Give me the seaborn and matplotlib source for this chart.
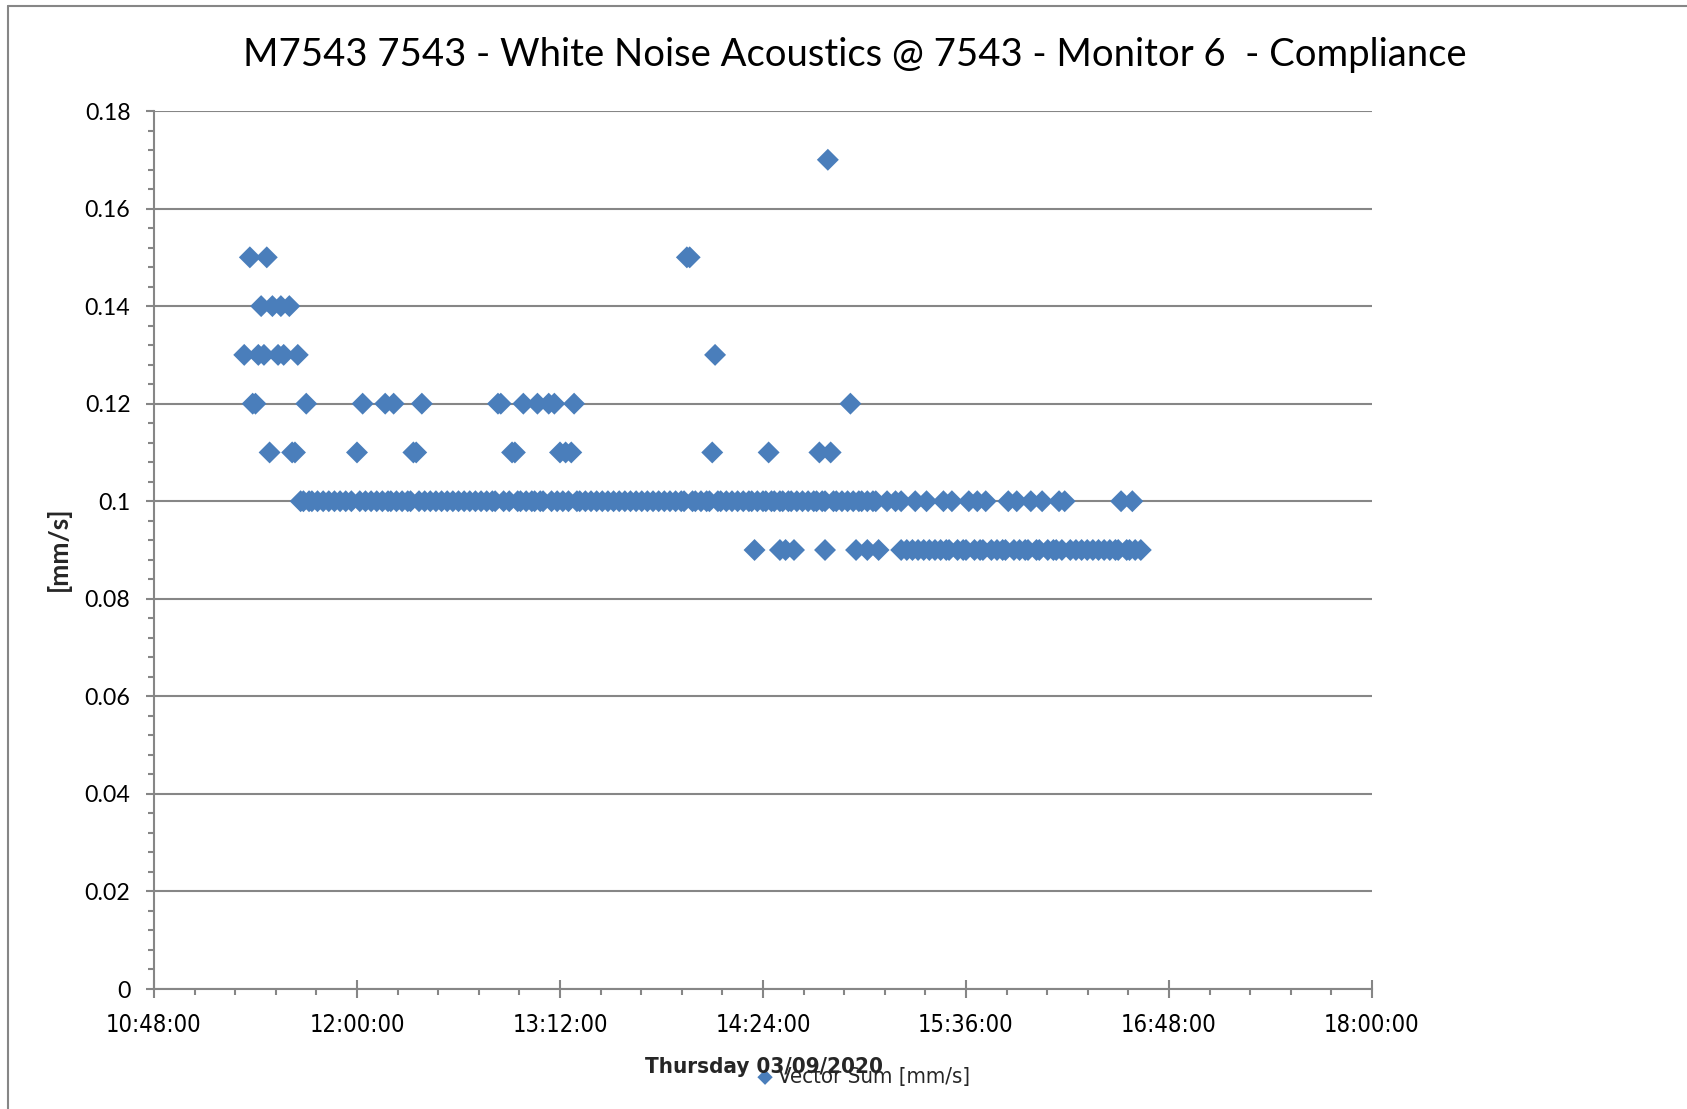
import matplotlib
matplotlib.use("Agg")
import matplotlib.pyplot as plt
import matplotlib.dates as mdates
import matplotlib.ticker as mticker
from matplotlib.lines import Line2D
import seaborn as sns
import pandas as pd

# ---------------- data ----------------
DATE = "2020-09-03"
TITLE = "M7543 7543 - White Noise Acoustics @ 7543 - Monitor 6  - Compliance"
X_LABEL = "Thursday 03/09/2020"
Y_LABEL = "[mm/s]"
SERIES = "Vector Sum [mm/s]"

x_tick_labels = ["10:48:00", "12:00:00", "13:12:00", "14:24:00", "15:36:00", "16:48:00", "18:00:00"]
y_ticks = [0, 0.02, 0.04, 0.06, 0.08, 0.1, 0.12, 0.14, 0.16, 0.18]

t_017 = ["14:47"]
t_015 = ["11:22", "11:28", "13:57", "13:58"]
t_014 = ["11:26", "11:30", "11:33", "11:36"]
t_013 = ["11:20", "11:25", "11:27", "11:32", "11:34", "11:39", "14:07"]
t_012 = ["11:23", "11:24", "11:42", "12:02", "12:10", "12:13", "12:23", "12:50",
         "12:51", "12:59", "13:04", "13:08", "13:10", "13:17", "14:55"]
t_011 = ["11:29", "11:37", "11:38", "12:00", "12:20", "12:21", "12:55", "12:56",
         "13:12", "13:14", "13:16", "14:06", "14:26", "14:44", "14:48"]
t_010 = ("11:40 11:41 11:43 11:44 11:46 11:48 11:50 11:52 11:54 11:56 11:58 12:01 "
         "12:03 12:05 12:07 12:09 12:11 12:12 12:14 12:16 12:18 12:19 12:22 12:24 "
         "12:26 12:28 12:30 12:32 12:34 12:36 12:38 12:40 12:42 12:44 12:46 12:48 "
         "12:49 12:52 12:54 12:57 12:58 13:00 13:02 13:03 13:05 13:06 13:09 13:11 "
         "13:13 13:15 13:18 13:19 13:21 13:23 13:25 13:27 13:29 13:31 13:33 13:35 "
         "13:37 13:39 13:41 13:43 13:45 13:47 13:49 13:51 13:53 13:55 13:56 13:59 "
         "14:00 14:02 14:04 14:05 14:08 14:09 14:11 14:13 14:15 14:17 14:19 14:20 "
         "14:22 14:24 14:25 14:27 14:28 14:30 14:31 14:33 14:34 14:36 14:38 14:40 "
         "14:42 14:43 14:45 14:46 14:49 14:50 14:52 14:54 14:56 14:58 14:59 15:01 "
         "15:03 15:04 15:08 15:11 15:13 15:18 15:22 15:28 15:31 15:37 15:40 15:43 "
         "15:51 15:54 15:59 16:03 16:09 16:11 16:31 16:35").split()
t_009 = ("14:21 14:30 14:32 14:35 14:46 14:57 15:01 15:05 15:13 15:15 15:17 15:19 "
         "15:21 15:23 15:25 15:27 15:29 15:30 15:33 15:35 15:36 15:39 15:41 15:42 "
         "15:45 15:47 15:49 15:50 15:53 15:55 15:57 15:58 16:01 16:02 16:05 16:07 "
         "16:08 16:10 16:13 16:15 16:17 16:19 16:21 16:23 16:25 16:27 16:29 16:30 "
         "16:33 16:34 16:36 16:38").split()

levels = {0.17: t_017, 0.15: t_015, 0.14: t_014, 0.13: t_013,
          0.12: t_012, 0.11: t_011, 0.10: t_010, 0.09: t_009}

rows = []
for val, times in levels.items():
    for t in times:
        rows.append({"time": pd.Timestamp(f"{DATE} {t}"), "value": val})
df = pd.DataFrame(rows).sort_values("time")

# ---------------- style ----------------
BLUE = "#4A7EBB"
GREY = "#868686"
W, H = 1687, 1109

sns.set_theme(style="white")
plt.rcParams['font.family'] = ['Lato', 'DejaVu Sans']
NARROW = dict(family=["DejaVu Sans"], stretch="condensed")

fig = plt.figure(figsize=(W / 100, H / 100), dpi=100)
ax = fig.add_axes([154 / W, 1 - 989 / H, 1218 / W, 878 / H])

sns.scatterplot(data=df, x="time", y="value", marker="D", s=125, color=BLUE,
                edgecolor="none", linewidth=0, ax=ax, label=SERIES, zorder=3)

x_ticks = [mdates.date2num(pd.Timestamp(f"{DATE} {l}")) for l in x_tick_labels]
ax.set_xlim(x_ticks[0], x_ticks[-1])
ax.xaxis.set_major_locator(mticker.FixedLocator(x_ticks))
ax.xaxis.set_major_formatter(mticker.FixedFormatter(x_tick_labels))
ax.xaxis.set_minor_locator(mticker.MultipleLocator(0.01))

ax.set_ylim(0, 0.18)
ax.yaxis.set_major_locator(mticker.FixedLocator(y_ticks))
ax.yaxis.set_major_formatter(mticker.FuncFormatter(lambda v, p: f"{round(v, 3):g}"))
ax.yaxis.set_minor_locator(mticker.MultipleLocator(0.004))

ax.yaxis.grid(True, which="major", color=GREY, linewidth=1.5)
ax.xaxis.grid(False)
ax.set_axisbelow(True)
for s in ["top", "right"]:
    ax.spines[s].set_visible(False)
for s in ["left", "bottom"]:
    ax.spines[s].set_color(GREY)
    ax.spines[s].set_linewidth(1.5)

ax.tick_params(axis="x", which="major", direction="inout", length=13, width=1.5,
               color=GREY, pad=11, labelsize=17, labelcolor="black")
ax.tick_params(axis="x", which="minor", direction="out", length=4.5, width=1.5, color=GREY)
ax.tick_params(axis="y", which="major", direction="out", length=6, width=1.5,
               color=GREY, pad=11, labelsize=16.7, labelcolor="black")
ax.tick_params(axis="y", which="minor", direction="out", length=4, width=1.5, color=GREY)
ax.tick_params(bottom=True, left=True, which="both")
for lab in ax.get_xticklabels():
    lab.set_family(NARROW["family"])
    lab.set_stretch(NARROW["stretch"])
ax.set_xlabel("")
ax.set_ylabel("")

fig.text(764 / W, 1 - 1067 / H, X_LABEL, ha="center", va="center", fontsize=16,
         fontweight="bold", **NARROW)
fig.text(58 / W, 1 - 549 / H, Y_LABEL, ha="center", va="center", rotation=90,
         fontsize=19, fontweight="bold")

fig.text(855 / W, 1 - 55 / H, TITLE, ha="center", va="center", fontsize=27.5, color="black")

leg = ax.legend(loc="center left", bbox_to_anchor=(754 / W, 1 - 1077 / H),
                bbox_transform=fig.transFigure, frameon=False, handletextpad=0.1,
                handlelength=1.0, borderpad=0, borderaxespad=0, markerscale=0.7,
                prop={"family": NARROW["family"], "stretch": NARROW["stretch"], "size": 15.9})

# chart-area border
fig.add_artist(Line2D([8 / W, 8 / W], [0, 1 - 6 / H], color=GREY, linewidth=1.5))
fig.add_artist(Line2D([8 / W, 1], [1 - 6 / H, 1 - 6 / H], color=GREY, linewidth=1.5))

fig.savefig("out.png", dpi=100)
